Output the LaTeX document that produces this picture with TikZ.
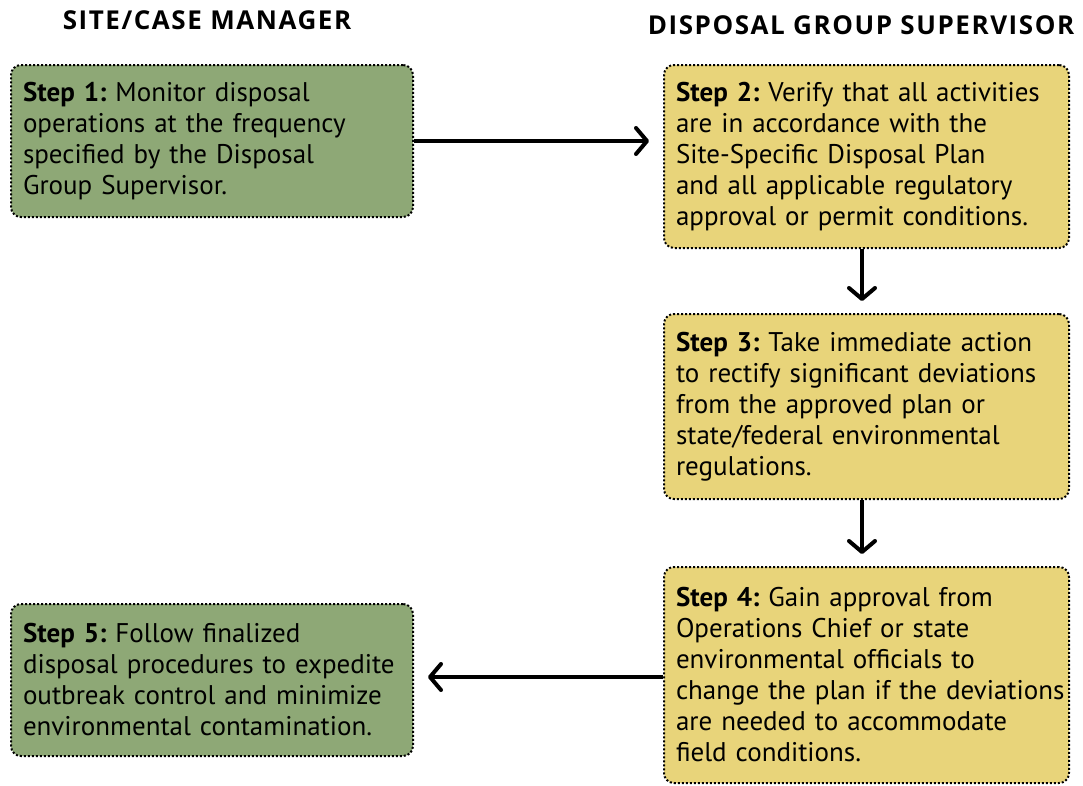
\documentclass[tikz,border=0pt]{standalone}
\usepackage{fontspec}
\setmainfont{PT Sans}
\newfontfamily\headfont[LetterSpace=6]{Open Sans}
\usetikzlibrary{arrows.meta}
\definecolor{boxgreen}{RGB}{142,168,118}
\definecolor{boxyellow}{RGB}{232,212,122}
\frenchspacing
\hyphenpenalty=10000
\tikzset{
  stepbox/.style={draw=black, line width=2pt, dotted, rounded corners=10pt,
    anchor=north west, align=left, inner xsep=12pt, inner ysep=10pt,
    font=\fontsize{27}{31}\selectfont, text=black},
  greenbox/.style={stepbox, fill=boxgreen, text width=378pt, minimum width=402pt},
  yellowbox/.style={stepbox, fill=boxyellow, text width=381pt, minimum width=405pt},
  header/.style={font=\headfont\bfseries\fontsize{26}{28}\selectfont, anchor=center},
  flow/.style={line width=4pt, -{Straight Barb[length=11pt, width=26pt, line width=4pt, line cap=round, round]}, shorten >=14pt}
}
\begin{document}
\begin{tikzpicture}[x=1pt,y=-1pt]
\useasboundingbox (0,0) rectangle (1083,785);
\node[header] (h1) at (207,20) {SITE/CASE MANAGER};
\node[header] (h2) at (861,25) {DISPOSAL GROUP SUPERVISOR};
\node[greenbox, minimum height=152pt] (s1) at (10,64)
  {\textbf{Step 1:} Monitor disposal\\operations at the frequency\\specified by the Disposal\\Group Supervisor.};
\node[yellowbox, minimum height=183pt] (s2) at (663,64)
  {\textbf{Step 2:} Verify that all activities\\are in accordance with the\\Site-Specific Disposal Plan\\and all applicable regulatory\\approval or permit conditions.};
\node[yellowbox, minimum height=185pt] (s3) at (663,313)
  {\textbf{Step 3:} Take immediate action\\\mbox{to rectify significant deviations}\\from the approved plan or\\state/federal environmental\\regulations.};
\node[yellowbox, minimum height=216pt] (s4) at (663,566)
  {\textbf{Step 4:} Gain approval from\\Operations Chief or state\\environmental officials to\\\mbox{change the plan if the deviations}\\are needed to accommodate\\field conditions.};
\node[greenbox, minimum height=152pt] (s5) at (10,603)
  {\textbf{Step 5:} Follow finalized\\disposal procedures to expedite\\outbreak control and minimize\\environmental contamination.};
\draw[flow] (s1.east) -- (s2.west |- s1.east);
\draw[flow, shorten >=12pt] (s2.south -| 862,0) -- (s3.north -| 862,0);
\draw[flow, shorten >=12pt] (s3.south -| 862,0) -- (s4.north -| 862,0);
\draw[flow] (s4.west |- 0,677) -- (s5.east |- 0,677);
\end{tikzpicture}
\end{document}
